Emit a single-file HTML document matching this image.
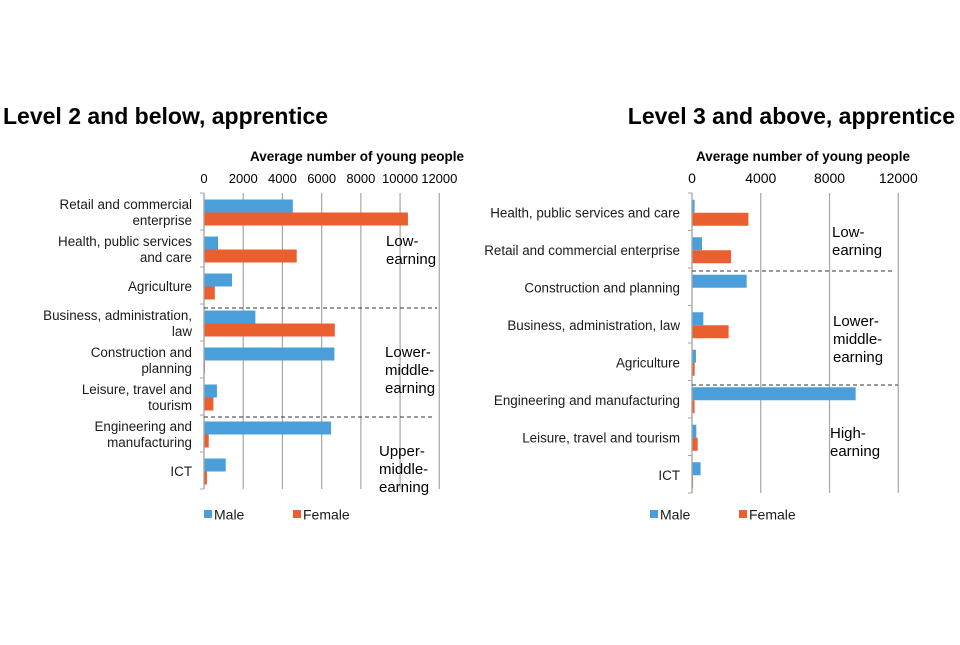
<!DOCTYPE html>
<html><head><meta charset="utf-8">
<style>
body{margin:0;background:#fff;width:960px;height:640px;overflow:hidden;font-family:"Liberation Sans",Arial,sans-serif;}
svg text{font-family:"Liberation Sans",Arial,sans-serif;}
</style></head>
<body>
<svg width="960" height="640">
<g id="left"></g>
<g id="right"></g>
</svg>
<script>
const leftCategories=[["Retail and commercial","enterprise"],["Health, public services","and care"],["Agriculture"],["Business, administration,","law"],["Construction and","planning"],["Leisure, travel and","tourism"],["Engineering and","manufacturing"],["ICT"]];
const leftMale=[4530,715,1430,2620,6650,660,6480,1110];
const leftFemale=[10400,4730,550,6670,50,480,240,150];
const leftTicks=[0,2000,4000,6000,8000,10000,12000];
const rightCategories=[["Health, public services and care"],["Retail and commercial enterprise"],["Construction and planning"],["Business, administration, law"],["Agriculture"],["Engineering and manufacturing"],["Leisure, travel and tourism"],["ICT"]];
const rightMale=[150,580,3180,660,230,9520,250,500];
const rightFemale=[3280,2270,20,2130,155,150,330,60];
const rightTicks=[0,4000,8000,12000];
const NS="http://www.w3.org/2000/svg";
function mk(parent,tag,attrs,txt){const e=document.createElementNS(NS,tag);for(const k in attrs)e.setAttribute(k,attrs[k]);if(txt!==undefined)e.textContent=txt;parent.appendChild(e);return e;}
function draw(g,cfg){
  const x=v=>cfg.x0+(v/12000)*(cfg.x1-cfg.x0);
  const band=(cfg.y1-cfg.y0)/cfg.cats.length;
  let t=mk(g,'text',{x:cfg.titleX,y:124,'font-size':23,'font-weight':'bold',fill:'#000','text-anchor':cfg.titleAnchor},cfg.title);
  
  
  t=mk(g,'text',{x:cfg.axisTitleX,y:161,'font-size':13.5,'font-weight':'bold',fill:'#000','text-anchor':'middle'},'Average number of young people');
  
  
  cfg.ticks.forEach(v=>{
    const l=mk(g,'line',{x1:x(v),x2:x(v),y1:cfg.y0,y2:cfg.y1,stroke:'#a6a6a6','stroke-width':1.2});
    
    
    const tl=mk(g,'text',{x:x(v),y:183,'font-size':cfg.tickFont,fill:'#000','text-anchor':'middle'},String(v));
    
    
  });
  for(let i=0;i<=cfg.cats.length;i++){
    const y=cfg.y0+i*band;
    const tk=mk(g,'line',{x1:x(0)-4,x2:x(0),y1:y,y2:y,stroke:'#a6a6a6'});
    
    
  }
  cfg.cats.forEach((c,i)=>{
    const yc=cfg.y0+i*band+band/2+1;
    const bh=13;
    const bm=mk(g,'rect',{x:x(0),y:yc-bh,width:x(cfg.male[i])-x(0),height:bh,fill:'#4a9fdb'});
    
    
    const bf=mk(g,'rect',{x:x(0),y:yc,width:x(cfg.female[i])-x(0),height:bh,fill:'#e95f2f'});
    
    
    const n=c.length;
    c.forEach((line,j)=>{
      const tl=mk(g,'text',{x:cfg.labelX,y:yc+4.5+(j-(n-1)/2)*16,'font-size':13.4,fill:'#1a1a1a','text-anchor':'end'},line);
      
      
    });
  });
  const ax=mk(g,'line',{x1:x(0),x2:x(0),y1:cfg.y0,y2:cfg.y1,stroke:'#a6a6a6','stroke-width':1.2});
  
  
  cfg.dashes.forEach(d=>{
    const l=mk(g,'line',{x1:x(0),x2:d[1],y1:d[0],y2:d[0],stroke:'#333','stroke-dasharray':'4,3'});
    
    
  });
  cfg.notes.forEach(nt=>{
    nt[2].forEach((line,j)=>{
      const tl=mk(g,'text',{x:nt[0],y:nt[1]+j*18,'font-size':15,fill:'#000'},line);
      
      
    });
  });
  [[cfg.legX,'#4a9fdb','Male'],[cfg.legX+89,'#e95f2f','Female']].forEach(l=>{
    const s=mk(g,'rect',{x:l[0],y:510,width:8,height:8,fill:l[1]});
    
    
    const tl=mk(g,'text',{x:l[0]+10,y:519.5,'font-size':14,fill:'#1a1a1a'},l[2]);
    
    
  });
}
draw(document.getElementById('left'),{title:'Level 2 and below, apprentice',titleX:3,titleAnchor:'start',axisTitleX:357,tickFont:13,
 x0:204,x1:439.3,y0:193,y1:489,cats:leftCategories,male:leftMale,female:leftFemale,ticks:leftTicks,labelX:192,
 dashes:[[308,437],[417,434]],notes:[[386,246,['Low-','earning']],[385,357,['Lower-','middle-','earning']],[379,456,['Upper-','middle-','earning']]],legX:204});
draw(document.getElementById('right'),{title:'Level 3 and above, apprentice',titleX:955,titleAnchor:'end',axisTitleX:803,tickFont:14,
 x0:692,x1:898.3,y0:193,y1:493,cats:rightCategories,male:rightMale,female:rightFemale,ticks:rightTicks,labelX:680,
 dashes:[[271,893],[385,898]],notes:[[832,237,['Low-','earning']],[833,326,['Lower-','middle-','earning']],[830,438,['High-','earning']]],legX:650});
</script>
</body></html>
